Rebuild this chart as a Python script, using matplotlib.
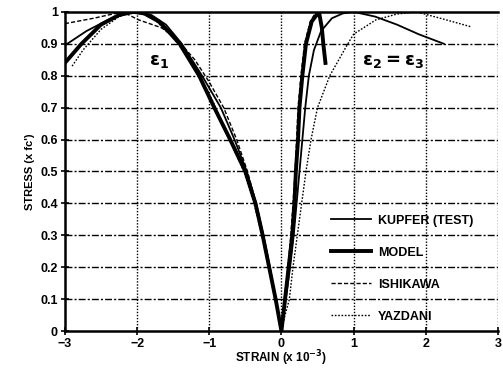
import numpy as np
import matplotlib
matplotlib.use("Agg")
import matplotlib.pyplot as plt

plt.rcParams['font.family'] = ['Liberation Sans', 'DejaVu Sans']
plt.rcParams['font.weight'] = 'bold'

# KUPFER (TEST)
kup_x = [-3, -2.7, -2.4, -2.15, -2.0, -1.8, -1.6, -1.38, -1.1, -0.84, -0.65, -0.48, -0.35, -0.25, -0.16, -0.08, 0,
         0.06, 0.12, 0.17, 0.21, 0.25, 0.29, 0.33, 0.38, 0.45, 0.55, 0.7, 0.85, 1.0, 1.3, 1.6, 1.9, 2.25]
kup_y = [0.895, 0.94, 0.975, 0.995, 1.0, 0.99, 0.96, 0.9, 0.8, 0.7, 0.6, 0.5, 0.4, 0.3, 0.2, 0.1, 0,
         0.1, 0.2, 0.3, 0.4, 0.5, 0.6, 0.7, 0.8, 0.88, 0.94, 0.98, 0.995, 1.0, 0.985, 0.96, 0.93, 0.9]

# MODEL
mod_x = [-3, -2.77, -2.5, -2.25, -2.05, -1.9, -1.7, -1.55, -1.41, -1.14, -0.93, -0.71, -0.5, -0.36, -0.26, -0.17, -0.08, 0,
         0.05, 0.1, 0.15, 0.18, 0.2, 0.23, 0.25, 0.29, 0.34, 0.42, 0.52, 0.56, 0.58, 0.61]
mod_y = [0.84, 0.9, 0.96, 0.99, 1.0, 0.995, 0.97, 0.935, 0.9, 0.8, 0.7, 0.6, 0.5, 0.4, 0.3, 0.2, 0.1, 0,
         0.1, 0.2, 0.3, 0.4, 0.5, 0.6, 0.7, 0.8, 0.9, 0.97, 1.0, 0.95, 0.9, 0.84]

# ISHIKAWA
ish_x = [-3, -2.6, -2.2, -1.98, -1.66, -1.45, -1.2, -1.0, -0.8, -0.62, -0.47, -0.35, -0.25, -0.16, -0.08, 0,
         0.04, 0.09, 0.13, 0.16, 0.19, 0.21, 0.23, 0.27, 0.32, 0.4, 0.48]
ish_y = [0.963, 0.98, 1.0, 0.975, 0.95, 0.915, 0.85, 0.78, 0.7, 0.6, 0.5, 0.4, 0.3, 0.2, 0.1, 0,
         0.1, 0.2, 0.3, 0.4, 0.5, 0.6, 0.7, 0.8, 0.9, 0.97, 1.0]

# YAZDANI
yaz_x = [-2.9, -2.75, -2.5, -2.25, -2.05, -1.8, -1.5, -1.2, -0.95, -0.72, -0.52, -0.38, -0.27, -0.18, -0.09, 0,
         0.05, 0.11, 0.16, 0.22, 0.28, 0.34, 0.41, 0.5, 0.67, 0.92, 1.0, 1.31, 1.6, 1.87, 2.2, 2.63]
yaz_y = [0.83, 0.88, 0.945, 0.985, 1.0, 0.985, 0.92, 0.83, 0.72, 0.6, 0.5, 0.4, 0.3, 0.2, 0.1, 0,
         0.05, 0.1, 0.2, 0.3, 0.4, 0.5, 0.6, 0.7, 0.8, 0.9, 0.93, 0.975, 0.993, 1.0, 0.98, 0.953]

xticks = [-3, -2, -1, 0, 1, 2, 3]
yticks = [0, 0.1, 0.2, 0.3, 0.4, 0.5, 0.6, 0.7, 0.8, 0.9, 1]
ytick_labels = ['0', '0.1', '0.2', '0.3', '0.4', '0.5', '0.6', '0.7', '0.8', '0.9', '1']

fig = plt.figure(figsize=(5.03, 3.70), dpi=100)
ax = fig.add_axes([0.129, 0.105, 0.861, 0.863])

# grid
for yv in yticks[1:-1]:
    ax.axhline(yv, color='black', lw=1.0, ls=(0, (5, 1.5, 1.5, 1.5)), zorder=1)
for xv in xticks[1:]:
    ax.axvline(xv, color='black', lw=1.0, ls=(0, (1, 1.2)), zorder=1)

ax.plot(kup_x, kup_y, color='black', lw=1.3, label='KUPFER (TEST)')
ax.plot(mod_x, mod_y, color='black', lw=2.8, label='MODEL')
ax.plot(ish_x, ish_y, color='black', lw=1.0, ls=(0, (3, 1.5)), label='ISHIKAWA')
ax.plot(yaz_x, yaz_y, color='black', lw=1.0, ls=(0, (1.2, 1.2)), label='YAZDANI')

ax.set_xlim(-3, 3)
ax.set_ylim(0, 1)
ax.set_xticks(xticks)
ax.set_yticks(yticks)
ax.set_yticklabels(ytick_labels)
ax.tick_params(direction='inout', length=6, width=1.2, labelsize=9, pad=2)
for lab in ax.get_xticklabels() + ax.get_yticklabels():
    lab.set_fontweight('bold')

ax.spines['right'].set_visible(False)
for s in ['left', 'bottom', 'top']:
    ax.spines[s].set_linewidth(1.8)

ax.set_xlabel('STRAIN (x 10$^{\\mathbf{-3}}$)', fontsize=8.5, fontweight='bold', labelpad=-1)
ax.set_ylabel("STRESS (x fc')", fontsize=8, fontweight='bold', labelpad=4)

ax.text(-1.7, 0.845, '$\\mathbf{\\epsilon_1}$', fontsize=13, ha='center', va='center')
ax.text(1.55, 0.845, '$\\mathbf{\\epsilon_2 = \\epsilon_3}$', fontsize=13, ha='center', va='center')

leg = ax.legend(loc='upper left', bbox_to_anchor=(0.68, 0.365), bbox_transform=ax.transData,
                frameon=False, fontsize=9, handlelength=3.2, handletextpad=0.6,
                labelspacing=1.6, borderpad=0, borderaxespad=0)
for t in leg.get_texts():
    t.set_fontweight('bold')

fig.savefig('out.png', dpi=100)
